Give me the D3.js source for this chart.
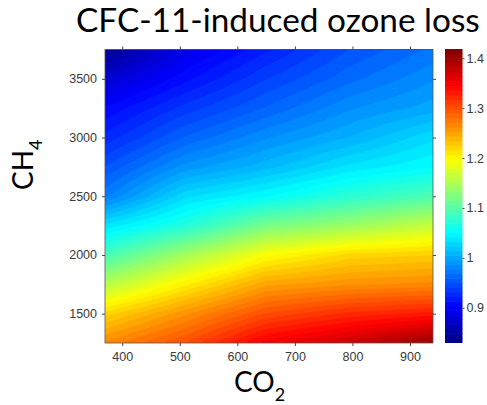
<!DOCTYPE html>
<html>
<head>
<meta charset="utf-8">
<script src="https://cdn.jsdelivr.net/npm/d3@7/dist/d3.min.js"></script>
<style>
  html, body { margin: 0; padding: 0; background: #fff; }
  svg { display: block; }
</style>
</head>
<body>
<svg id="chart" width="487" height="405"></svg>
<script>
// CO2 (ppm) sample columns and CH4 (ppb) sample rows of the field
const co2 = [370, 510, 650, 795, 940];
const ch4 = [1250, 1500, 1750, 2000, 2250, 2500, 2750, 3000, 3250, 3500, 3750];

// Relative CFC-11-induced ozone loss, one array per CO2 column (rows follow ch4)
const loss370 = [1.265, 1.22, 1.155, 1.09, 1.035, 0.975, 0.95, 0.925, 0.905, 0.877, 0.84];
const loss510 = [1.30, 1.26, 1.205, 1.145, 1.07, 1.03, 0.99, 0.96, 0.935, 0.91, 0.89];
const loss650 = [1.35, 1.30, 1.25, 1.195, 1.12, 1.05, 1.01, 0.985, 0.96, 0.94, 0.92];
const loss795 = [1.375, 1.32, 1.26, 1.22, 1.14, 1.075, 1.035, 1.005, 0.985, 0.965, 0.95];
const loss940 = [1.405, 1.33, 1.265, 1.225, 1.165, 1.095, 1.05, 1.03, 1.0, 0.985, 0.97];
const lossColumns = [loss370, loss510, loss650, loss795, loss940];

// Axis ticks and colour limits
const co2Ticks = [400, 500, 600, 700, 800, 900];
const ch4Ticks = [1500, 2000, 2500, 3000, 3500];
const cbarTicks = [0.9, 1, 1.1, 1.2, 1.3, 1.4];
const colorLimits = [0.83, 1.418];

const svg = d3.select("#chart");
const plot = { left: 105, right: 433, top: 49.5, bottom: 343 };
const cbar = { left: 445, right: 462.5, top: 49.3, bottom: 342.7 };

const x = d3.scaleLinear().domain([370, 940]).range([plot.left, plot.right]);
const y = d3.scaleLinear().domain([1250, 3750]).range([plot.bottom, plot.top]);
const yc = d3.scaleLinear().domain(colorLimits).range([cbar.bottom, cbar.top]);

// MATLAB-style jet colormap
function jet(t) {
  const c = v => Math.max(0, Math.min(1, v));
  const r = c(1.5 - Math.abs(4 * t - 3));
  const g = c(1.5 - Math.abs(4 * t - 2));
  const b = c(1.5 - Math.abs(4 * t - 1));
  return d3.rgb(r * 255, g * 255, b * 255).formatHex();
}
const colorOf = v => jet((v - colorLimits[0]) / (colorLimits[1] - colorLimits[0]));

// Bilinear lookup into the sampled field
function lookup(a, b) {
  let i = d3.bisectRight(co2, a) - 1; i = Math.max(0, Math.min(co2.length - 2, i));
  let j = d3.bisectRight(ch4, b) - 1; j = Math.max(0, Math.min(ch4.length - 2, j));
  const fx = (a - co2[i]) / (co2[i + 1] - co2[i]);
  const fy = (b - ch4[j]) / (ch4[j + 1] - ch4[j]);
  const v00 = lossColumns[i][j], v10 = lossColumns[i + 1][j];
  const v01 = lossColumns[i][j + 1], v11 = lossColumns[i + 1][j + 1];
  return (v00 * (1 - fx) + v10 * fx) * (1 - fy) + (v01 * (1 - fx) + v11 * fx) * fy;
}

// Fine raster for the filled contours
const nx = 164, ny = 147;
const gx = i => 370 + (i / nx) * 570;
const gy = j => 1250 + (j / ny) * 2500;
const grid = new Array(nx * ny);
for (let j = 0; j < ny; j++) for (let i = 0; i < nx; i++) grid[j * nx + i] = lookup(gx(i + 0.5), gy(j + 0.5));

const step = 0.0092;
const levels = d3.range(colorLimits[0], colorLimits[1], step);
const contours = d3.contours().size([nx, ny]).thresholds(levels)(grid);

const proj = d3.geoTransform({
  point(px, py) { this.stream.point(x(gx(px)), y(gy(py))); }
});
const path = d3.geoPath(proj);

svg.append("clipPath").attr("id", "plotClip")
  .append("rect").attr("x", plot.left).attr("y", plot.top)
  .attr("width", plot.right - plot.left).attr("height", plot.bottom - plot.top);

svg.append("g").attr("clip-path", "url(#plotClip)")
  .selectAll("path").data(contours).join("path")
  .attr("d", path)
  .attr("fill", d => colorOf(d.value + step / 2))
  .attr("stroke", d => colorOf(d.value + step / 2))
  .attr("stroke-width", 0.4);

// Axes
const tickColor = "#444";
const labelFont = "'Liberation Sans', Arial, sans-serif";
function styleAxis(g) {
  g.select(".domain").remove();
  g.selectAll(".tick line").attr("stroke", tickColor);
  g.selectAll(".tick text").attr("fill", "#3a3a3a").style("font-family", labelFont).style("font-size", "12.5px");
}
svg.append("g").attr("transform", `translate(0,${plot.bottom})`)
  .call(d3.axisBottom(x).tickValues(co2Ticks).tickSize(3).tickPadding(6).tickFormat(d3.format("d"))).call(styleAxis);
svg.append("g").attr("transform", `translate(0,${plot.top})`)
  .call(d3.axisTop(x).tickValues(co2Ticks).tickSize(3).tickFormat("")).call(styleAxis);
svg.append("g").attr("transform", `translate(${plot.left},0)`)
  .call(d3.axisLeft(y).tickValues(ch4Ticks).tickSize(3).tickPadding(5).tickFormat(d3.format("d"))).call(styleAxis);
svg.append("g").attr("transform", `translate(${plot.right},0)`)
  .call(d3.axisRight(y).tickValues(ch4Ticks).tickSize(3).tickFormat("")).call(styleAxis);

svg.append("rect")
  .attr("x", plot.left).attr("y", plot.top)
  .attr("width", plot.right - plot.left).attr("height", plot.bottom - plot.top)
  .attr("fill", "none").attr("stroke", "#555").attr("stroke-width", 0.8);

// Colour bar
const nColors = 64;
const cbSteps = d3.range(nColors).map(k => colorLimits[0] + (k / nColors) * (colorLimits[1] - colorLimits[0]));
const cbStep = (colorLimits[1] - colorLimits[0]) / nColors;
svg.append("g").selectAll("rect").data(cbSteps).join("rect")
  .attr("x", cbar.left).attr("width", cbar.right - cbar.left)
  .attr("y", d => yc(d + cbStep) - 0.3)
  .attr("height", d => yc(d) - yc(d + cbStep) + 0.6)
  .attr("fill", d => colorOf(d + cbStep / 2));
svg.append("g").attr("transform", `translate(${cbar.right},0)`)
  .call(d3.axisRight(yc).tickValues(cbarTicks).tickSize(2).tickPadding(2).tickFormat(d3.format("~g")))
  .call(styleAxis);

// Titles
const textFont = "Lato, 'Open Sans', sans-serif";
function fitWidth(sel, target) {
  const w = sel.node().getComputedTextLength();
  const s = parseFloat(sel.style("font-size"));
  sel.style("font-size", (s * target / w) + "px");
}
const title = svg.append("text")
  .attr("x", 76).attr("y", 32)
  .style("font-family", textFont).style("font-size", "34px").attr("fill", "#000")
  .text("CFC-11-induced ozone loss");
fitWidth(title, 404);

const xl = svg.append("text").attr("x", 234).attr("y", 392)
  .style("font-family", textFont).style("font-size", "28px").attr("fill", "#000");
xl.append("tspan").text("CO");
xl.append("tspan").attr("dy", 9).style("font-size", "18px").text("2");

const ylab = svg.append("text").attr("transform", "translate(33,190) rotate(-90)")
  .style("font-family", textFont).style("font-size", "28px").attr("fill", "#000");
ylab.append("tspan").text("CH");
ylab.append("tspan").attr("dy", 9).style("font-size", "18px").text("4");
</script>
</body>
</html>
